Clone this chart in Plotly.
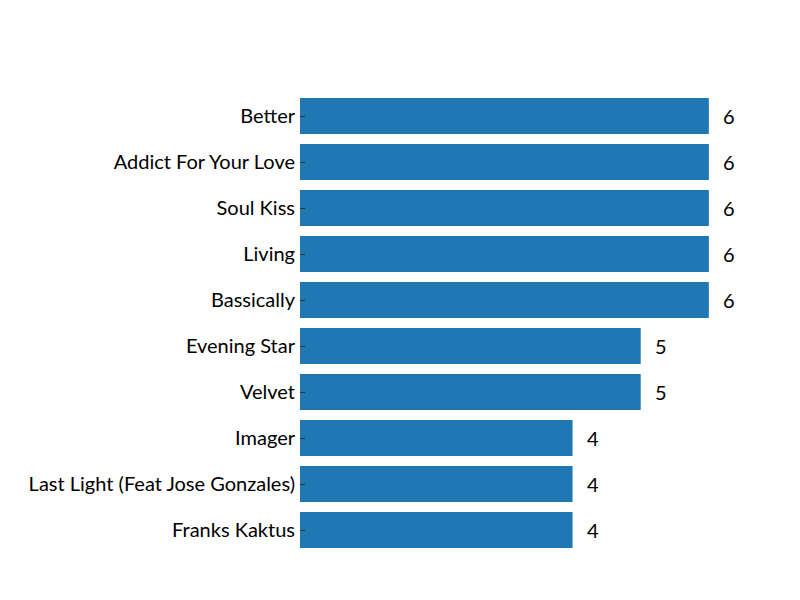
import plotly.graph_objects as go

songs = ["Better", "Addict For Your Love", "Soul Kiss", "Living", "Bassically",
         "Evening Star", "Velvet", "Imager", "Last Light (Feat Jose Gonzales)", "Franks Kaktus"]
counts = [6, 6, 6, 6, 6, 5, 5, 4, 4, 4]

FONT = "Lato"
fig = go.Figure()
fig.add_trace(go.Bar(
    y=songs, x=counts, orientation="h",
    marker=dict(color="#1f77b4", line=dict(width=0)),
    hoverinfo="skip",
))
for s, c in zip(songs, counts):
    fig.add_annotation(x=c, y=s, text=str(c), showarrow=False, xanchor="left",
                       xshift=12, font=dict(family=FONT, size=20, color="black"))

fig.update_layout(
    width=800, height=600,
    margin=dict(l=300, r=23, t=93, b=47),
    paper_bgcolor="white", plot_bgcolor="white",
    bargap=0.22,
    showlegend=False,
    font=dict(family=FONT, size=20, color="black"),
)
fig.update_xaxes(range=[0, 7], visible=False, showgrid=False, zeroline=False)
fig.update_yaxes(autorange="reversed", showgrid=False, zeroline=False, showline=False,
                 ticks="inside", ticklen=5, tickwidth=1, tickcolor="#333",
                 ticklabelstandoff=4,
                 tickfont=dict(family=FONT, size=20, color="black"))

fig.write_html("out.html")
